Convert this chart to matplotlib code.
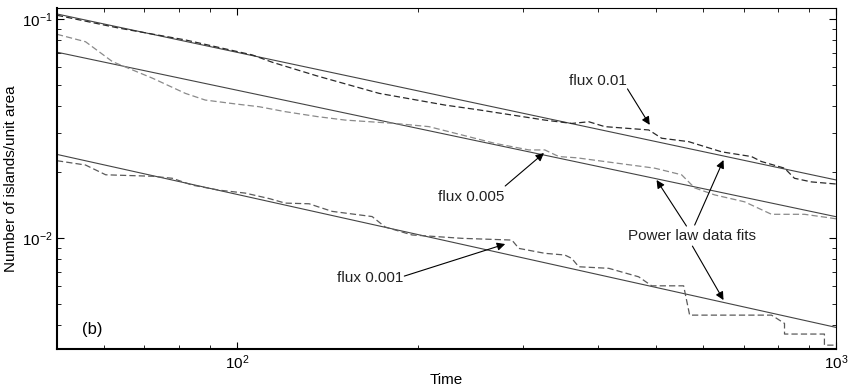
import matplotlib
matplotlib.use('Agg')
import matplotlib.pyplot as plt

plt.rcParams['font.family'] = ['Liberation Sans', 'DejaVu Sans']
plt.rcParams['mathtext.fontset'] = 'custom'
plt.rcParams['mathtext.rm'] = 'Liberation Sans'

# island density curves
t_01 = [50, 63.6, 81.9, 105.9, 114.4, 135.9, 172.5, 222.2, 253.2, 287.3, 326.1, 361.6,
        386.1, 410.6, 486.1, 510.9, 566.6, 643.4, 721.6, 749.9, 819.2, 851.1, 908.5, 1000]
n_01 = [0.104, 0.0907, 0.0802, 0.0685, 0.0634, 0.0549, 0.0457, 0.0404, 0.0384, 0.0364, 0.0345, 0.0333,
        0.0339, 0.0322, 0.0311, 0.0285, 0.0275, 0.0247, 0.0235, 0.0223, 0.0208, 0.0187, 0.0180, 0.0176]

t_005 = [50, 55.8, 61.9, 72.2, 81.9, 88.4, 99.2, 108.8, 120.2, 135.9, 151.4, 183.4, 208.9, 237.1,
         269.2, 306.7, 326.1, 344.1, 368.6, 410.6, 497.4, 551.6, 580, 626.3, 702.5, 779.3, 884.4, 981, 1000]
n_005 = [0.0851, 0.0787, 0.0638, 0.0536, 0.0457, 0.0426, 0.0409, 0.0397, 0.0377, 0.0358, 0.0345, 0.0333,
         0.0322, 0.0295, 0.0270, 0.0252, 0.0252, 0.0235, 0.0232, 0.0223, 0.0208, 0.0194, 0.0169, 0.0157,
         0.0146, 0.0128, 0.0128, 0.0123, 0.0122]

t_001 = [50, 55.8, 60.3, 72.2, 77.9, 84.1, 93.3, 103.1, 113.1, 120.2, 131.8, 135.9, 144, 167.9, 176.5,
         195.7, 237.1, 287.3, 295.1, 326.1, 352.1, 361.6, 371.5, 416.9, 467.7, 491.7, 555.9, 568.9,
         779.3, 819.2, 819.2, 955, 955, 1000]
n_001 = [0.0225, 0.0215, 0.0194, 0.0191, 0.0187, 0.0174, 0.0165, 0.0160, 0.0151, 0.0144, 0.0143, 0.0139,
         0.0132, 0.0125, 0.0112, 0.0103, 0.00994, 0.00976, 0.00894, 0.00849, 0.00834, 0.00805, 0.00737,
         0.00725, 0.00663, 0.00603, 0.00603, 0.00443, 0.00443, 0.00406, 0.00363, 0.00363, 0.00323, 0.00323]

# power law fits, end points
fit_t = [50, 1000]
fit_01 = [0.1054, 0.01836]
fit_005 = [0.0705, 0.01247]
fit_001 = [0.02404, 0.00389]

fig = plt.figure(figsize=(8.5, 3.9), dpi=100)
ax = fig.add_axes([0.067, 0.105, 0.917, 0.874])

fit_color = '#444444'
for fv in (fit_01, fit_005, fit_001):
    ax.plot(fit_t, fv, '-', color=fit_color, lw=0.8)

ax.plot(t_01, n_01, color='#2a2a2a', lw=0.9, dashes=(5, 2.5))
ax.plot(t_005, n_005, color='#8a8a8a', lw=0.9, dashes=(5, 2.5))
ax.plot(t_001, n_001, color='#5a5a5a', lw=0.9, dashes=(5, 2.5))

ax.set_xscale('log')
ax.set_yscale('log')
ax.set_xlim(50, 1000)
ax.set_ylim(0.0031, 0.112)

ax.tick_params(which='both', direction='in', top=True, right=True, labelsize=11, pad=3)
ax.tick_params(which='major', length=5)
ax.tick_params(which='minor', length=3)
for side in ('left', 'bottom'):
    ax.spines[side].set_linewidth(1.5)
for side in ('top', 'right'):
    ax.spines[side].set_linewidth(0.8)

ax.set_xlabel('Time', fontsize=11, labelpad=1)
ax.set_ylabel('Number of islands/unit area', fontsize=11, labelpad=3)

arrow = dict(arrowstyle='-|>', color='black', lw=0.8, mutation_scale=12,
             shrinkA=0, shrinkB=0)

ax.text(399.7, 0.0521, 'flux 0.01', fontsize=11, ha='center', va='center', color='#222222')
ax.annotate('', xy=(488, 0.0328), xytext=(448, 0.0479), arrowprops=arrow)

ax.text(245.5, 0.01535, 'flux 0.005', fontsize=11, ha='center', va='center', color='#222222')
ax.annotate('', xy=(325, 0.0244), xytext=(280, 0.01724), arrowprops=arrow)

ax.text(166.6, 0.00654, 'flux 0.001', fontsize=11, ha='center', va='center', color='#222222')
ax.annotate('', xy=(280, 0.00936), xytext=(190, 0.00668), arrowprops=arrow)

ax.text(575, 0.01018, 'Power law data fits', fontsize=11, ha='center', va='center', color='#222222')
ax.annotate('', xy=(501, 0.01836), xytext=(562, 0.01131), arrowprops=arrow)
ax.annotate('', xy=(648, 0.02266), xytext=(580, 0.01143), arrowprops=arrow)
ax.annotate('', xy=(648, 0.00519), xytext=(575, 0.00916), arrowprops=arrow)

ax.text(0.032, 0.035, '(b)', transform=ax.transAxes, fontsize=12, ha='left', va='bottom')

fig.savefig('out.png', dpi=100)
